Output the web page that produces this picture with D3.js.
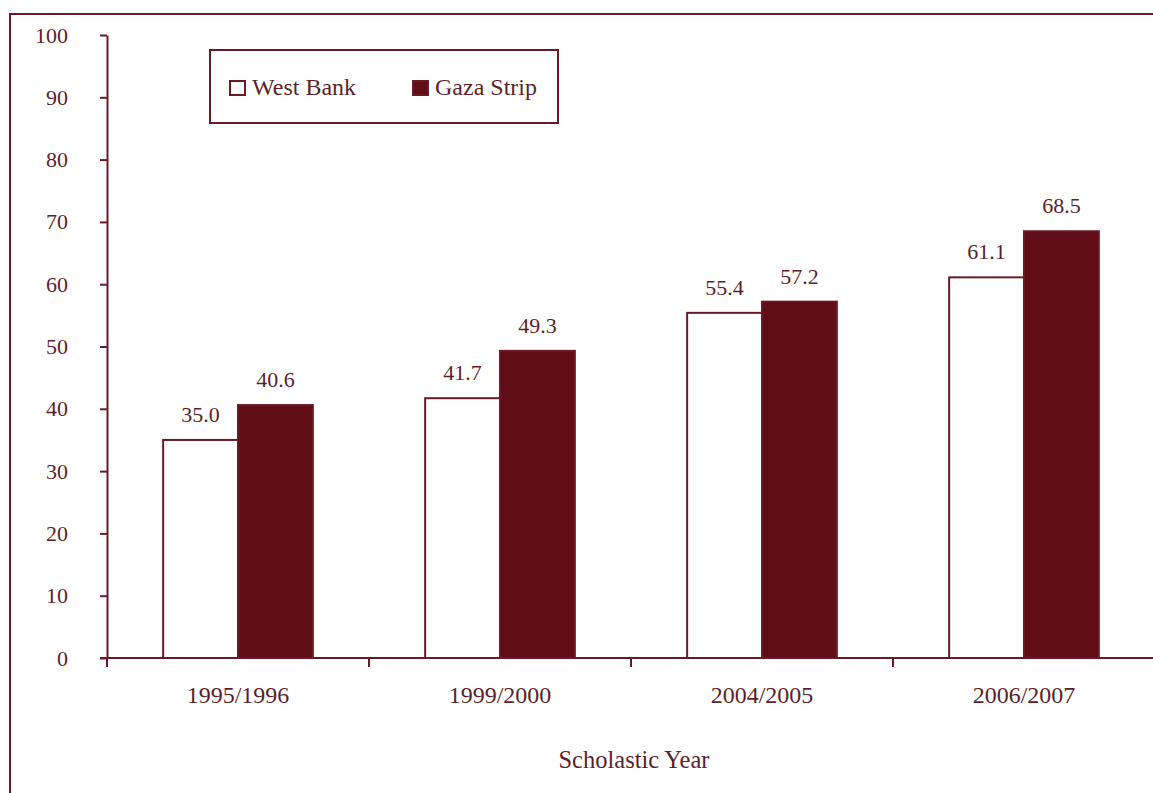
<!DOCTYPE html>
<html>
<head>
<meta charset="utf-8">
<script src="https://cdn.jsdelivr.net/npm/d3@7"></script>
<style>
  html, body { margin: 0; padding: 0; background: #fff; overflow: hidden; }
  svg { display: block; font-family: "Liberation Serif", "Times New Roman", serif; }
</style>
</head>
<body>
<svg id="chart" width="1153" height="793"></svg>
<script>
// Scholastic years and the two regional series (percent)
const years = ["1995/1996", "1999/2000", "2004/2005", "2006/2007"];
const seriesNames = ["West Bank", "Gaza Strip"];
const westBank = [35.0, 41.7, 55.4, 61.1];
const gazaStrip = [40.6, 49.3, 57.2, 68.5];
const yTicks = [0, 10, 20, 30, 40, 50, 60, 70, 80, 90, 100];

const maroon = "#6a1a24";
const barDark = "#600d18";
const textColor = "#5b1f2a";

const svg = d3.select("#chart");

// outer frame, running past the right and bottom edges
svg.append("rect")
  .attr("x", 10).attr("y", 14)
  .attr("width", 1200).attr("height", 820)
  .attr("fill", "none").attr("stroke", maroon).attr("stroke-width", 2);

const x0 = d3.scaleBand().domain(years).range([107, 1155]).paddingInner(0).paddingOuter(0);
const x1 = d3.scaleBand().domain(seriesNames).range([0, x0.bandwidth()]).paddingInner(0).paddingOuter(0.75);
const y = d3.scaleLinear().domain([0, 100]).range([658, 35]);

const rows = years.map((yr, i) => ({ year: yr, values: [westBank[i], gazaStrip[i]] }));

// bars
const groups = svg.append("g").selectAll("g").data(rows).join("g")
  .attr("transform", d => `translate(${x0(d.year)},0)`);

groups.selectAll("rect").data(d => d.values.map((v, j) => ({ name: seriesNames[j], value: v })))
  .join("rect")
  .attr("x", d => x1(d.name))
  .attr("y", d => y(d.value))
  .attr("width", x1.bandwidth())
  .attr("height", d => y(0) - y(d.value))
  .attr("fill", d => d.name === "West Bank" ? "#fff" : barDark)
  .attr("stroke", maroon)
  .attr("stroke-width", 2);

// value labels
groups.selectAll("text").data(d => d.values.map((v, j) => ({ name: seriesNames[j], value: v })))
  .join("text")
  .attr("x", d => x1(d.name) + x1.bandwidth() / 2)
  .attr("y", d => y(d.value) - 18)
  .attr("text-anchor", "middle")
  .attr("fill", textColor)
  .attr("font-size", 22)
  .text(d => d.value.toFixed(1));

// y axis
const yAxis = svg.append("g").attr("transform", "translate(107,0)")
  .call(d3.axisLeft(y).tickValues(yTicks).tickSize(7).tickSizeOuter(0).tickPadding(32));
yAxis.select(".domain").attr("stroke", maroon).attr("stroke-width", 2);
yAxis.selectAll(".tick line").attr("stroke", maroon).attr("stroke-width", 2);
yAxis.selectAll(".tick text").attr("fill", textColor).attr("font-size", 22)
  .attr("font-family", "Liberation Serif, serif");

// x axis with ticks at category boundaries
const xAxisG = svg.append("g").attr("transform", `translate(0,${y(0)})`);
xAxisG.append("line")
  .attr("x1", 100).attr("x2", 1160)
  .attr("stroke", maroon).attr("stroke-width", 2);
const bounds = years.map(yr => x0(yr));
xAxisG.selectAll("line.tick").data(bounds).join("line")
  .attr("class", "tick")
  .attr("x1", d => d).attr("x2", d => d)
  .attr("y1", 0).attr("y2", 9)
  .attr("stroke", maroon).attr("stroke-width", 2);
xAxisG.selectAll("text").data(years).join("text")
  .attr("x", d => x0(d) + x0.bandwidth() / 2)
  .attr("y", 45)
  .attr("text-anchor", "middle")
  .attr("fill", textColor)
  .attr("font-size", 24)
  .text(d => d);

// axis title
svg.append("text")
  .attr("x", 634).attr("y", 768)
  .attr("text-anchor", "middle")
  .attr("fill", textColor)
  .attr("font-size", 24.5)
  .text("Scholastic Year");

// legend
const legend = svg.append("g");
legend.append("rect")
  .attr("x", 210).attr("y", 50).attr("width", 348).attr("height", 73)
  .attr("fill", "#fff").attr("stroke", maroon).attr("stroke-width", 2);
const legendX = [230, 413];
seriesNames.forEach((name, i) => {
  legend.append("rect")
    .attr("x", legendX[i]).attr("y", 81).attr("width", 15).attr("height", 14)
    .attr("fill", i === 0 ? "#fff" : barDark)
    .attr("stroke", maroon).attr("stroke-width", 2);
  legend.append("text")
    .attr("x", legendX[i] + 22).attr("y", 95)
    .attr("fill", textColor)
    .attr("font-size", 24)
    .text(name);
});
</script>
</body>
</html>
